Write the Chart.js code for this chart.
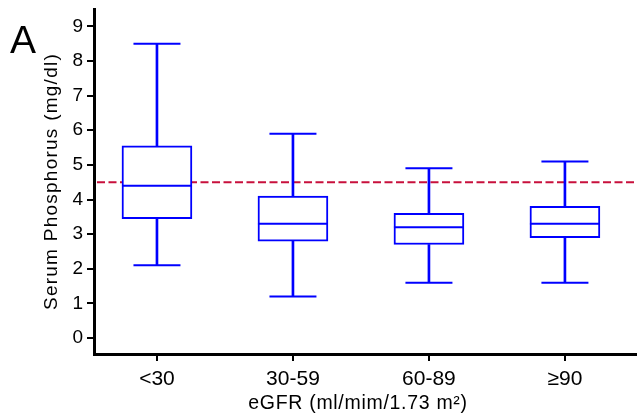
<!DOCTYPE html>
<html>
<head>
<meta charset="utf-8">
<script src="https://cdn.jsdelivr.net/npm/chart.js@4.4.0/dist/chart.umd.min.js"></script>
<style>
  body { margin: 0; background: #fff; }
</style>
</head>
<body>
<canvas id="chart" width="637" height="419"></canvas>
<script>
// box plot values per eGFR group
const categories = ['<30', '30-59', '60-89', '\u226590'];
const whiskerLow = [2.1, 1.2, 1.6, 1.6];
const quartile1 = [3.45, 2.8, 2.7, 2.9];
const medians = [4.4, 3.3, 3.2, 3.3];
const quartile3 = [5.55, 4.1, 3.6, 3.8];
const whiskerHigh = [8.5, 5.9, 4.9, 5.1];
const yTicks = [0, 1, 2, 3, 4, 5, 6, 7, 8, 9];
const refLine = 4.5;
const panelLabel = 'A';
const yTitle = 'Serum Phosphorus (mg/dl)';
const xTitle = 'eGFR (ml/mim/1.73 m\u00b2)';

const blue = '#0000ff';
const family = "'Liberation Sans', Arial, sans-serif";

const pt = (arr) => arr.map((v, i) => ({ x: i + 1, y: v }));
const range = (a, b) => a.map((v, i) => ({ x: i + 1, y: [v, b[i]] }));

const refLinePlugin = {
    id: 'refLine',
    beforeDatasetsDraw(chart) {
        const { ctx, chartArea, scales } = chart;
        const y = scales.y.getPixelForValue(refLine);
        ctx.save();
        ctx.strokeStyle = '#c8103c';
        ctx.lineWidth = 2;
        ctx.setLineDash([8, 3.5]);
        ctx.beginPath();
        ctx.moveTo(chartArea.left + 3, y);
        ctx.lineTo(chartArea.right, y);
        ctx.stroke();
        ctx.restore();
    }
};

// the original axis titles are a bit wider set than plain Arial
const titleStyle = { x: { spacing: 0.7, shift: -7.5 }, y: { spacing: 1.25, shift: 0 } };
const spacedTitles = {
    id: 'spacedTitles',
    afterLayout(chart) {
        Object.keys(titleStyle).forEach(id => {
            const s = chart.scales[id];
            if (!s || s._spaced) return;
            const orig = s.drawTitle;
            s.drawTitle = function () {
                const ctx = this.ctx;
                ctx.save();
                ctx.letterSpacing = titleStyle[id].spacing + 'px';
                ctx.translate(titleStyle[id].shift, 0);
                orig.apply(this, arguments);
                ctx.restore();
            };
            s._spaced = true;
        });
    }
};

const panelPlugin = {
    id: 'panelLabel',
    afterDraw(chart) {
        const ctx = chart.ctx;
        ctx.save();
        ctx.fillStyle = '#000';
        ctx.font = '39px ' + family;
        ctx.textBaseline = 'alphabetic';
        ctx.fillText(panelLabel, 10, 53);
        ctx.restore();
    }
};

const noPad = (s) => { s.paddingTop = 0; s.paddingBottom = 0; s.paddingLeft = 0; s.paddingRight = 0; };

new Chart(document.getElementById('chart'), {
    type: 'bar',
    data: {
        datasets: [
            {
                type: 'line',
                data: pt(medians),
                showLine: false,
                pointStyle: 'line',
                pointRadius: 35,
                pointBorderWidth: 2,
                pointBorderColor: blue,
            },
            {
                type: 'line',
                data: pt(whiskerLow).concat(pt(whiskerHigh)),
                showLine: false,
                pointStyle: 'line',
                pointRadius: 23.5,
                pointBorderWidth: 2,
                pointBorderColor: blue,
            },
            {
                data: range(quartile1, quartile3),
                grouped: false,
                barThickness: 70,
                backgroundColor: '#fff',
                borderColor: blue,
                borderWidth: 2,
                borderSkipped: false,
            },
            {
                data: range(whiskerLow, quartile1),
                grouped: false,
                barThickness: 2,
                backgroundColor: blue,
                borderWidth: 0,
            },
            {
                data: range(quartile3, whiskerHigh),
                grouped: false,
                barThickness: 2,
                backgroundColor: blue,
                borderWidth: 0,
            },
        ]
    },
    options: {
        responsive: false,
        animation: false,
        layout: { autoPadding: false, padding: { top: 9, right: 0, bottom: 0, left: 0 } },
        plugins: {
            legend: { display: false },
            tooltip: { enabled: false },
        },
        scales: {
            x: {
                type: 'linear',
                min: 0.537,
                max: 4.53,
                offset: false,
                afterBuildTicks: (s) => { s.ticks = categories.map((c, i) => ({ value: i + 1 })); },
                afterFit: (s) => { s.height = 65; noPad(s); },
                grid: { offset: false, drawOnChartArea: false, drawTicks: true, tickLength: 7, color: '#000', lineWidth: 2 },
                border: { color: '#000', width: 3 },
                ticks: {
                    color: '#000',
                    font: { family: family, size: 21 },
                    padding: 6,
                    maxRotation: 0,
                    autoSkip: false,
                    callback: (v) => categories[Math.round(v) - 1],
                },
                title: { display: true, text: xTitle, color: '#000', font: { family: family, size: 19.5 }, padding: { top: 0, bottom: 3.6 } },
            },
            y: {
                min: -0.46,
                max: 9.5,
                afterBuildTicks: (s) => { s.ticks = yTicks.map(v => ({ value: v })); },
                afterFit: (s) => { s.width = 94; noPad(s); },
                grid: { drawOnChartArea: false, drawTicks: true, tickLength: 7, color: '#000', lineWidth: 2 },
                border: { color: '#000', width: 3 },
                ticks: { color: '#000', font: { family: family, size: 19 }, padding: 4 },
                title: { display: true, text: yTitle, color: '#000', font: { family: family, size: 19 }, padding: { top: 40.3, bottom: 0 } },
            }
        }
    },
    plugins: [refLinePlugin, spacedTitles, panelPlugin]
});
</script>
</body>
</html>
